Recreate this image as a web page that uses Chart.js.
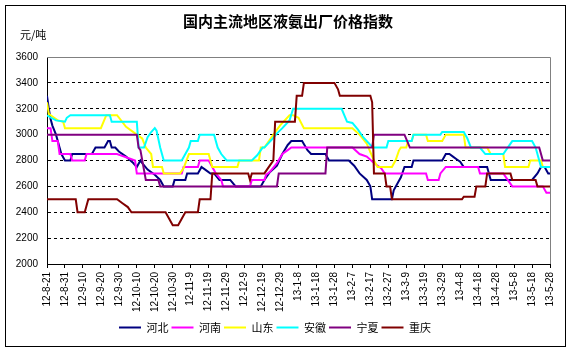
<!DOCTYPE html>
<html>
<head>
<meta charset="utf-8">
<script src="https://cdn.jsdelivr.net/npm/chart.js@4.4.0/dist/chart.umd.min.js"></script>
<style>
  html, body { margin: 0; padding: 0; background: #fff; }
  canvas { display: block; }
</style>
</head>
<body>
<canvas id="chart" width="573" height="353"></canvas>
<script>
// x axis: one step = one day from 12-8-21, a label every 10 days
const xLabels = [
  "12-8-21", "12-8-31", "12-9-10", "12-9-20", "12-9-30", "12-10-10", "12-10-20",
  "12-10-30", "12-11-9", "12-11-19", "12-11-29", "12-12-9", "12-12-19", "12-12-29",
  "13-1-8", "13-1-18", "13-1-28", "13-2-7", "13-2-17", "13-2-27", "13-3-9",
  "13-3-19", "13-3-29", "13-4-8", "13-4-18", "13-4-28", "13-5-8", "13-5-18", "13-5-28"
];

// price changes (day index, yuan per ton)
const hebeiDays   = [0, 1, 2, 3, 5, 7, 8, 10, 13, 14, 25, 27, 32, 34, 35, 36, 38, 40, 44, 48, 50, 52, 53, 56, 60, 63, 65, 70, 71, 77, 78, 84, 86, 89, 91, 93, 96, 102, 105, 119, 121, 124, 128, 131, 134, 136, 142, 145, 147, 155, 157, 168, 171, 174, 178, 180, 181, 192, 193, 195, 197, 199, 203, 204, 220, 222, 224, 226, 228, 230, 231, 232, 245, 247, 270, 273, 275, 277, 279, 280];
const hebeiPrices = [3300, 3200, 3120, 3070, 3000, 2900, 2850, 2800, 2800, 2850, 2850, 2900, 2900, 2950, 2950, 2900, 2900, 2870, 2830, 2780, 2750, 2800, 2780, 2730, 2690, 2650, 2600, 2600, 2650, 2650, 2700, 2700, 2750, 2720, 2700, 2700, 2650, 2650, 2600, 2600, 2650, 2710, 2760, 2850, 2920, 2950, 2950, 2880, 2850, 2850, 2800, 2800, 2760, 2700, 2650, 2600, 2500, 2500, 2570, 2620, 2670, 2750, 2750, 2800, 2800, 2850, 2850, 2830, 2810, 2790, 2770, 2750, 2750, 2650, 2650, 2700, 2750, 2750, 2700, 2700];

const henanDays   = [0, 2, 3, 6, 7, 13, 14, 21, 22, 39, 41, 44, 49, 50, 75, 76, 84, 85, 90, 92, 94, 97, 98, 113, 114, 121, 122, 124, 128, 131, 134, 136, 170, 174, 178, 182, 186, 188, 211, 212, 218, 219, 222, 240, 241, 254, 259, 276, 278, 280];
const henanPrices = [3050, 3050, 2950, 2950, 2850, 2850, 2800, 2800, 2850, 2850, 2840, 2825, 2800, 2700, 2700, 2750, 2750, 2800, 2800, 2750, 2700, 2650, 2600, 2600, 2650, 2650, 2690, 2710, 2780, 2850, 2880, 2900, 2900, 2850, 2830, 2780, 2740, 2700, 2700, 2650, 2650, 2700, 2750, 2750, 2700, 2700, 2600, 2600, 2550, 2550];

const shandongDays   = [0, 1, 3, 6, 9, 10, 30, 33, 39, 44, 50, 53, 55, 58, 59, 64, 65, 74, 76, 79, 90, 92, 106, 107, 118, 119, 121, 127, 130, 135, 137, 140, 143, 170, 174, 178, 182, 184, 192, 194, 196, 197, 200, 201, 203, 204, 211, 212, 220, 222, 232, 233, 245, 247, 254, 255, 268, 269, 275, 276, 280];
const shandongPrices = [3250, 3160, 3140, 3110, 3100, 3050, 3050, 3150, 3150, 3060, 3000, 2970, 2900, 2850, 2750, 2750, 2700, 2700, 2740, 2850, 2850, 2750, 2750, 2800, 2800, 2900, 2900, 3020, 3075, 3150, 3150, 3130, 3050, 3050, 3000, 2930, 2800, 2750, 2750, 2800, 2880, 2900, 2900, 2950, 2950, 3000, 3000, 2950, 2950, 3000, 3000, 2900, 2900, 2850, 2850, 2750, 2750, 2800, 2800, 2750, 2750];

const anhuiDays   = [0, 1, 5, 10, 11, 13, 35, 36, 50, 51, 54, 56, 58, 60, 61, 63, 65, 75, 77, 79, 80, 84, 85, 93, 95, 97, 100, 114, 117, 120, 121, 125, 128, 131, 135, 137, 164, 167, 170, 173, 176, 180, 182, 189, 190, 203, 204, 219, 220, 232, 234, 236, 241, 244, 254, 259, 270, 272, 274, 275, 280];
const anhuiPrices = [3150, 3140, 3110, 3100, 3130, 3150, 3150, 3100, 3100, 2900, 2900, 2980, 3020, 3050, 3030, 2900, 2800, 2800, 2850, 2900, 2950, 2950, 3000, 3000, 2900, 2850, 2800, 2800, 2840, 2900, 2900, 2960, 3010, 3050, 3110, 3200, 3200, 3100, 3090, 3040, 2980, 2920, 2900, 2900, 2950, 2950, 3000, 3000, 3020, 3020, 2970, 2900, 2900, 2850, 2850, 2950, 2950, 2900, 2800, 2750, 2750];

const ningxiaDays   = [0, 50, 51, 52, 55, 62, 63, 128, 129, 155, 156, 181, 182, 199, 202, 274, 276, 280];
const ningxiaPrices = [3000, 3000, 2900, 2880, 2650, 2650, 2600, 2600, 2700, 2700, 2900, 2900, 3000, 3000, 2900, 2900, 2800, 2800];

const chongqingDays   = [0, 16, 17, 21, 23, 39, 42, 45, 47, 66, 68, 70, 73, 75, 77, 84, 85, 91, 92, 112, 113, 114, 121, 124, 126, 127, 138, 139, 142, 143, 160, 162, 163, 180, 181, 182, 188, 189, 191, 192, 231, 232, 238, 239, 244, 245, 258, 259, 272, 273, 280];
const chongqingPrices = [2500, 2500, 2400, 2400, 2500, 2500, 2470, 2440, 2400, 2400, 2350, 2300, 2300, 2350, 2400, 2400, 2500, 2500, 2700, 2700, 2650, 2700, 2700, 2760, 2800, 3100, 3100, 3300, 3300, 3400, 3400, 3350, 3300, 3300, 3250, 2700, 2700, 2600, 2600, 2500, 2500, 2520, 2520, 2600, 2600, 2700, 2700, 2650, 2650, 2600, 2600];

const seriesNames  = ["河北", "河南", "山东", "安徽", "宁夏", "重庆"];
const seriesColors = ["#000080", "#FF00FF", "#FFFF00", "#00FFFF", "#800080", "#800000"];

const CJK = '"Noto Sans CJK SC", sans-serif';
const LAT = '"Liberation Sans", Arial, sans-serif';

function toPoints(days, prices) {
  return days.map((d, i) => ({ x: d, y: prices[i] }));
}

const allSeries = [
  toPoints(hebeiDays, hebeiPrices),
  toPoints(henanDays, henanPrices),
  toPoints(shandongDays, shandongPrices),
  toPoints(anhuiDays, anhuiPrices),
  toPoints(ningxiaDays, ningxiaPrices),
  toPoints(chongqingDays, chongqingPrices)
];

// title, unit label, frame, grey plot border
const decorations = {
  id: 'decorations',
  beforeDraw(chart) {
    const ctx = chart.ctx;
    ctx.save();
    ctx.fillStyle = '#fff';
    ctx.fillRect(0, 0, chart.width, chart.height);
    ctx.restore();
  },
  beforeDatasetsDraw(chart) {
    const { ctx, chartArea: { left, top, right, bottom } } = chart;
    ctx.save();
    ctx.strokeStyle = '#808080';
    ctx.lineWidth = 1;
    ctx.beginPath();
    ctx.moveTo(left, top + 0.5);
    ctx.lineTo(right + 0.5, top + 0.5);
    ctx.lineTo(right + 0.5, bottom);
    ctx.stroke();
    ctx.restore();
  },
  afterDraw(chart) {
    const ctx = chart.ctx;
    ctx.save();
    ctx.fillStyle = '#000';
    ctx.textBaseline = 'middle';
    ctx.textAlign = 'center';
    ctx.font = 'bold 15px ' + CJK;
    ctx.fillText('国内主流地区液氨出厂价格指数', 288, 21);
    ctx.textAlign = 'left';
    ctx.font = '11px ' + CJK;
    ctx.fillText('元/吨', 20, 35);
    ctx.strokeStyle = '#000';
    ctx.lineWidth = 1;
    ctx.strokeRect(5.5, 5.5, 560, 341);
    ctx.restore();
  }
};

new Chart(document.getElementById('chart'), {
  type: 'line',
  data: {
    datasets: allSeries.map((pts, i) => ({
      label: seriesNames[i],
      data: pts,
      borderColor: seriesColors[i],
      backgroundColor: seriesColors[i],
      borderWidth: 2,
      pointRadius: 0,
      tension: 0,
      fill: false,
      order: allSeries.length - i
    }))
  },
  options: {
    responsive: false,
    animation: false,
    layout: { padding: { left: 0, top: 57, right: 23, bottom: 10 } },
    plugins: {
      legend: {
        position: 'bottom',
        labels: {
          usePointStyle: true,
          pointStyle: 'line',
          pointStyleWidth: 22,
          boxHeight: 11,
          padding: 3,
          color: '#000',
          font: { family: CJK, size: 11 },
          sort: (a, b) => a.datasetIndex - b.datasetIndex
        }
      },
      tooltip: { enabled: false }
    },
    scales: {
      x: {
        type: 'linear',
        min: 0,
        max: 280,
        afterBuildTicks: s => { s.ticks = xLabels.map((_, i) => ({ value: i * 10 })); },
        afterFit: s => { s.height = 55; },
        ticks: {
          autoSkip: false,
          minRotation: 90,
          maxRotation: 90,
          padding: 4,
          color: '#000',
          font: { family: LAT, size: 10 },
          callback: v => xLabels[Math.round(v / 10)]
        },
        grid: { drawOnChartArea: false, drawTicks: true, tickLength: 4, color: '#000' },
        border: { color: '#000', width: 1 }
      },
      y: {
        min: 2000,
        max: 3600,
        afterFit: s => { s.width = 47; },
        ticks: {
          stepSize: 200,
          padding: 9,
          color: '#000',
          font: { family: LAT, size: 10 },
          callback: v => String(v)
        },
        grid: {
          drawTicks: false,
          color: c => (c.tick && (c.tick.value === 2000 || c.tick.value === 3600)) ? 'rgba(0,0,0,0)' : '#000'
        },
        border: { color: '#000', width: 1, dash: [3, 3] }
      }
    }
  },
  plugins: [decorations]
});
</script>
</body>
</html>
